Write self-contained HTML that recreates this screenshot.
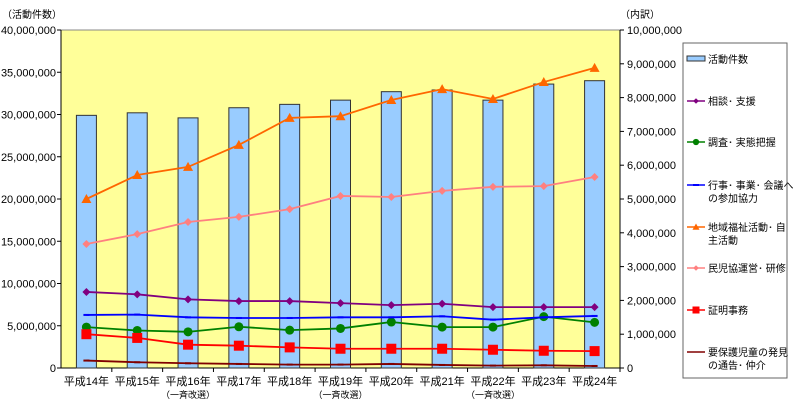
<!DOCTYPE html>
<html><head><meta charset="utf-8">
<style>
body{margin:0;background:#fff;}
svg{display:block;font-family:"Liberation Sans","Noto Sans CJK JP",sans-serif;}
</style></head>
<body>
<svg id="chart" width="795" height="413" viewBox="0 0 795 413" xmlns="http://www.w3.org/2000/svg">
</svg>
<script>
const categories=["平成14年","平成15年","平成16年","平成17年","平成18年","平成19年","平成20年","平成21年","平成22年","平成23年","平成24年"];
const subLabels=["","","（一斉改選）","","","（一斉改選）","","","（一斉改選）","",""];
const totalCases=[29.9,30.2,29.6,30.8,31.2,31.7,32.7,32.9,31.7,33.6,34.0];
const consult=[2.25,2.18,2.03,1.98,1.98,1.92,1.86,1.90,1.80,1.80,1.80];
const survey=[1.21,1.11,1.07,1.22,1.12,1.17,1.36,1.21,1.21,1.52,1.35];
const events=[1.57,1.58,1.50,1.48,1.48,1.50,1.50,1.53,1.43,1.50,1.54];
const community=[5.0,5.71,5.95,6.6,7.4,7.45,7.93,8.25,7.96,8.46,8.88];
const committee=[3.67,3.96,4.32,4.47,4.70,5.09,5.06,5.24,5.36,5.38,5.65];
const certificate=[1.0,0.89,0.69,0.66,0.61,0.57,0.57,0.57,0.54,0.51,0.50];
const childReport=[0.22,0.17,0.14,0.12,0.10,0.10,0.12,0.09,0.07,0.08,0.06];
const leftTicks=["0","5,000,000","10,000,000","15,000,000","20,000,000","25,000,000","30,000,000","35,000,000","40,000,000"];
const rightTicks=["0","1,000,000","2,000,000","3,000,000","4,000,000","5,000,000","6,000,000","7,000,000","8,000,000","9,000,000","10,000,000"];

const NS="http://www.w3.org/2000/svg";
const svg=document.getElementById('chart');
const L=61,R=620,T=30,B=368;
const step=(R-L)/categories.length;
function xPos(i){return L+step*(i+0.5);}
function yLeft(v){return B-(B-T)*v/40;}
function yRight(v){return B-(B-T)*v/10;}
function mk(tag,attrs,parent){const e=document.createElementNS(NS,tag);for(const k in attrs)e.setAttribute(k,attrs[k]);(parent||svg).appendChild(e);return e;}

const bg=mk('rect',{x:L,y:T,width:R-L,height:B-T,fill:'#ffff99',stroke:'#888','stroke-width':1});



leftTicks.forEach((t,i)=>{
  const y=B-(B-T)*i/(leftTicks.length-1);
  mk('line',{x1:L-4,x2:L,y1:y,y2:y,stroke:'#000'});
  const tx=mk('text',{x:L-5,y:y+4,'text-anchor':'end','font-size':11,fill:'#000'});
  tx.textContent=t;
  
  
});
rightTicks.forEach((t,i)=>{
  const y=B-(B-T)*i/(rightTicks.length-1);
  mk('line',{x1:R,x2:R+4,y1:y,y2:y,stroke:'#000'});
  const tx=mk('text',{x:R+7,y:y+4,'font-size':11,fill:'#000'});
  tx.textContent=t;
  
  
});
mk('line',{x1:L,x2:L,y1:T,y2:B,stroke:'#000'});
mk('line',{x1:R,x2:R,y1:T,y2:B,stroke:'#000'});
mk('line',{x1:L,x2:R,y1:B,y2:B,stroke:'#000'});
const lt=mk('text',{x:2,y:18,'font-size':10,fill:'#000'});lt.textContent='（活動件数）';

const rt=mk('text',{x:620,y:18,'font-size':10,fill:'#000'});rt.textContent='（内訳）';


categories.forEach((c,i)=>{
  mk('line',{x1:L+step*(i+1),x2:L+step*(i+1),y1:B,y2:B+4,stroke:'#000'});
  const tx=mk('text',{x:xPos(i),y:B+17,'text-anchor':'middle','font-size':11,fill:'#000'});
  tx.textContent=c;
  
  
  if(subLabels[i]){
    const s=mk('text',{x:xPos(i),y:B+30,'text-anchor':'middle','font-size':9,fill:'#000'});
    s.textContent=subLabels[i];
    
    
  }
});

totalCases.forEach((v,i)=>{
  const y=yLeft(v);
  const r=mk('rect',{x:xPos(i)-10,y:y,width:20,height:B-y,fill:'#99ccff',stroke:'#333','stroke-width':1});
  
  
});

function marker(type,x,y,color,g,s){
  s=s||1;
  if(type==='diamond')return mk('polygon',{points:`${x},${y-4*s} ${x+4*s},${y} ${x},${y+4*s} ${x-4*s},${y}`,fill:color},g);
  if(type==='circle')return mk('circle',{cx:x,cy:y,r:4.5*s,fill:color},g);
  if(type==='triangle')return mk('polygon',{points:`${x},${y-5*s} ${x+5*s},${y+4*s} ${x-5*s},${y+4*s}`,fill:color},g);
  if(type==='square')return mk('rect',{x:x-5*s,y:y-5*s,width:10*s,height:10*s,fill:color},g);
  if(type==='dash')return mk('rect',{x:x-3,y:y-1,width:6,height:2,fill:color},g);
  return null;
}
const series=[
 {name:'series-consult',data:consult,color:'#800080',m:'diamond'},
 {name:'series-survey',data:survey,color:'#008000',m:'circle'},
 {name:'series-events',data:events,color:'#0000ff',m:'dash'},
 {name:'series-community',data:community,color:'#ff6600',m:'triangle'},
 {name:'series-committee',data:committee,color:'#ff8080',m:'diamond'},
 {name:'series-certificate',data:certificate,color:'#ff0000',m:'square'},
 {name:'series-child-report',data:childReport,color:'#800000',m:'dash'}
];
series.forEach(s=>{
  const g=mk('g',{});
  
  
  const pts=s.data.map((v,i)=>xPos(i)+','+yRight(v)).join(' ');
  mk('polyline',{points:pts,fill:'none',stroke:s.color,'stroke-width':1.8},g);
  s.data.forEach((v,i)=>{
    const m=marker(s.m,xPos(i),yRight(v),s.color,g);
    if(m){}
  });
});

const lg=mk('g',{});


mk('rect',{x:683,y:43,width:104,height:335,fill:'#fff',stroke:'#666'},lg);
const legendItems=[
 {t:['活動件数'],y:59,bar:true},
 {t:['相談･ 支援'],y:101,c:'#800080',m:'diamond'},
 {t:['調査･ 実態把握'],y:142,c:'#008000',m:'circle'},
 {t:['行事･ 事業･ 会議へ','の参加協力'],y:185,c:'#0000ff',m:'dash'},
 {t:['地域福祉活動･ 自','主活動'],y:227,c:'#ff6600',m:'triangle'},
 {t:['民児協運営･ 研修'],y:268,c:'#ff8080',m:'diamond'},
 {t:['証明事務'],y:310,c:'#ff0000',m:'square'},
 {t:['要保護児童の発見','の通告･ 仲介'],y:352,c:'#800000',m:null}
];
legendItems.forEach(it=>{
  const g=mk('g',{},lg);
  
  
  if(it.bar){mk('rect',{x:687,y:it.y-3,width:18,height:5,fill:'#99ccff',stroke:'#333'},g);}
  else{
    mk('line',{x1:687,x2:705,y1:it.y,y2:it.y,stroke:it.c,'stroke-width':1.5},g);
    if(it.m)marker(it.m,696,it.y,it.c,g,0.7);
  }
  it.t.forEach((line,k)=>{
    const tx=mk('text',{x:708,y:it.y+4+k*13,'font-size':10,fill:'#000'},g);
    tx.textContent=line;
  });
});
</script>
</body></html>
